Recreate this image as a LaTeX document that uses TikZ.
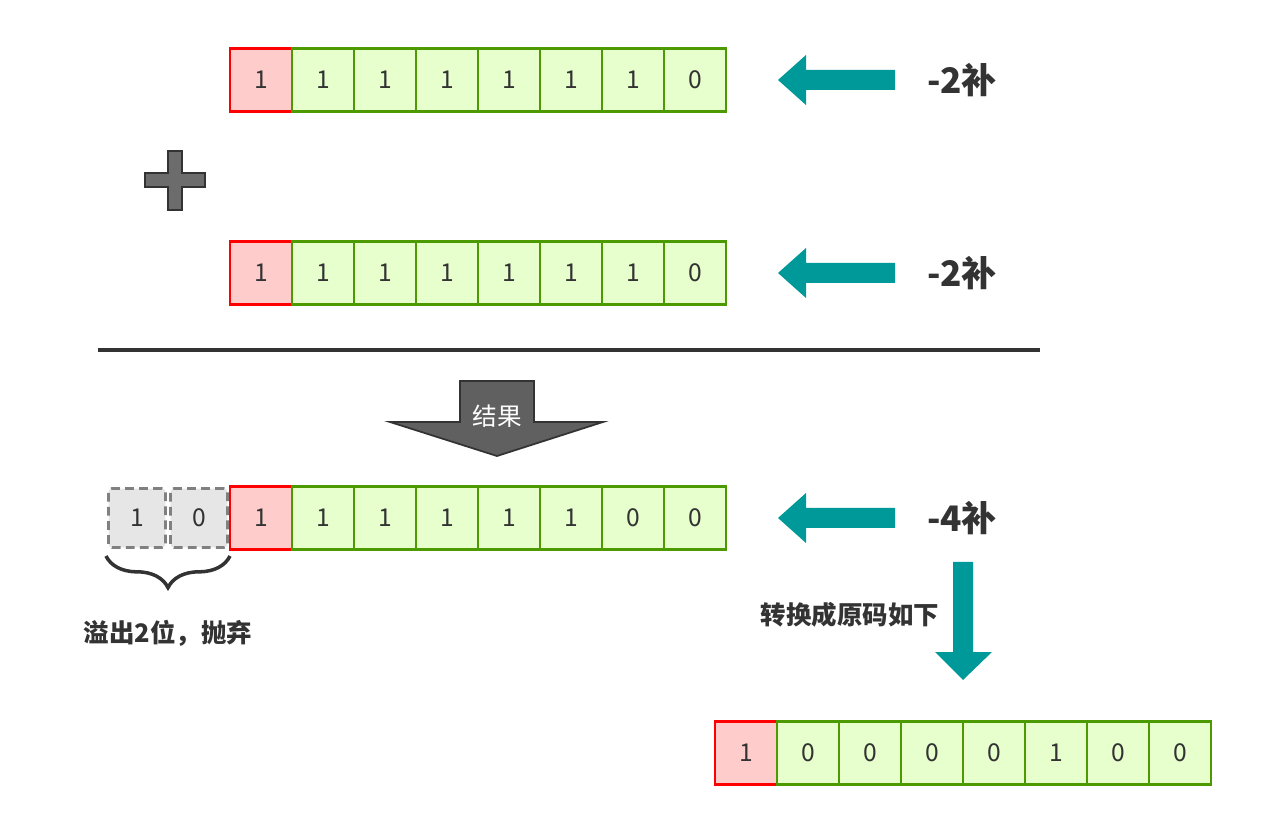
\documentclass[tikz,border=0pt]{standalone}
\usepackage{fontspec}
\setmainfont{Noto Sans CJK SC}
\usetikzlibrary{decorations.pathreplacing}
\definecolor{signred}{HTML}{FF0000}
\definecolor{signfill}{HTML}{FFCCCC}
\definecolor{bitgreen}{HTML}{4D9900}
\definecolor{bitfill}{HTML}{E6FFCC}
\definecolor{dropgray}{HTML}{808080}
\definecolor{dropfill}{HTML}{E6E6E6}
\definecolor{tealc}{HTML}{009999}
\definecolor{darkc}{HTML}{333333}
\tikzset{
	cell/.style={draw,line width=1.6pt,minimum width=1.24cm,minimum height=1.26cm,inner sep=0pt,
		font=\fontsize{14}{14}\selectfont,text=darkc},
	bit/.style={cell,draw=bitgreen,fill=bitfill},
	sign/.style={cell,draw=signred,fill=signfill},
	drop/.style={cell,draw=dropgray,fill=dropfill,dashed,dash pattern=on 5pt off 3pt,
		minimum width=1.14cm,minimum height=1.18cm,rounded corners=2pt},
	lab/.style={font=\bfseries\fontsize{20}{20}\selectfont,text=darkc},
	note/.style={font=\bfseries\fontsize{14.5}{14.5}\selectfont,text=darkc}
}
\newcommand\tealleft[1]{\fill[tealc] (895,#1-10) -- (806,#1-10) -- (806,#1-25) -- (778,#1) -- (806,#1+25) -- (806,#1+10) -- (895,#1+10) -- cycle;}
\begin{document}
\begin{tikzpicture}[x=0.02cm,y=-0.02cm]
	\useasboundingbox (0,0) rectangle (1262,834);
	
	% first operand
	\node[sign] (a0) at (261,80) {1};
	\foreach \b [count=\i] in {1,1,1,1,1,1,0}
		\node[bit] (a\i) at ({261+62*\i},80) {\b};
	\tealleft{80}
	\node[lab] (la) at (962,80) {-2补};
	
	% plus sign
	\filldraw[fill=gray!85!black,draw=darkc,line width=1.5pt]
		(168,151) -- (182,151) -- (182,173) -- (205,173) -- (205,187) -- (182,187) -- (182,210)
		-- (168,210) -- (168,187) -- (145,187) -- (145,173) -- (168,173) -- cycle;
	
	% second operand
	\node[sign] (b0) at (261,273) {1};
	\foreach \b [count=\i] in {1,1,1,1,1,1,0}
		\node[bit] (b\i) at ({261+62*\i},273) {\b};
	\tealleft{273}
	\node[lab] (lb) at (962,273) {-2补};
	
	% sum line
	\draw[darkc,line width=2pt] (98,350) -- (1040,350);
	
	% result arrow
	\filldraw[fill=gray!75!black,draw=darkc,line width=1pt]
		(460,381) -- (534,381) -- (534,422) -- (603,422) -- (497,456) -- (390,422) -- (460,422) -- cycle;
	\node[text=white,font=\fontsize{14}{14}\selectfont] (res) at (497,416) {结果};
	
	% result
	\node[drop] (c8) at (137,518) {1};
	\node[drop] (c9) at (199,518) {0};
	\node[sign] (c0) at (261,518) {1};
	\foreach \b [count=\i] in {1,1,1,1,1,0,0}
		\node[bit] (c\i) at ({261+62*\i},518) {\b};
	\tealleft{518}
	\node[lab] (lc) at (962,518) {-4补};
	\draw[decorate,decoration={brace,mirror,amplitude=18pt},darkc,line width=2pt]
		(106,556) -- (230,556);
	\node[note] (ov) at (168,633) {溢出2位，抛弃};
	
	% conversion
	\fill[tealc] (953,562) -- (973,562) -- (973,652) -- (992,652) -- (963,680) -- (935,652) -- (953,652) -- cycle;
	\node[note] (cv) at (850,615) {转换成原码如下};
	\node[sign] (d0) at (746,753) {1};
	\foreach \b [count=\i] in {0,0,0,0,1,0,0}
		\node[bit] (d\i) at ({746+62*\i},753) {\b};
	
\end{tikzpicture}
\end{document}
